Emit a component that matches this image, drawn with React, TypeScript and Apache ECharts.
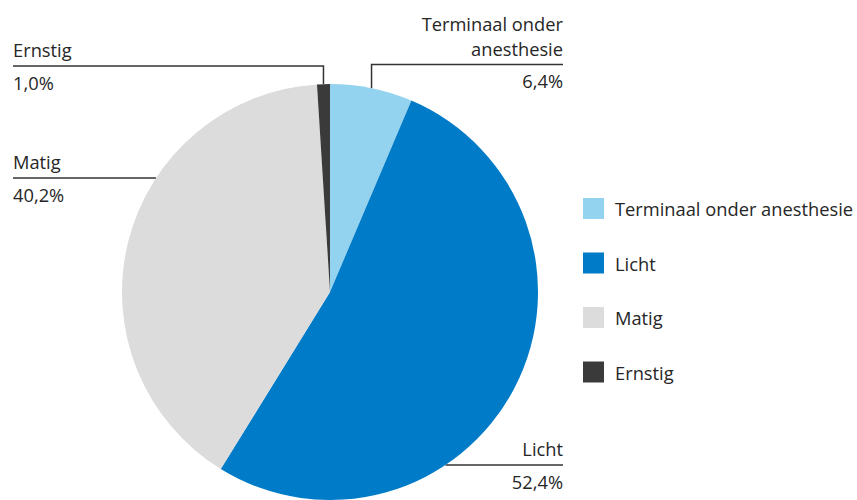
import React, { useEffect, useRef } from "react";
import * as echarts from "echarts";

// ---- data ----
const categories = ["Terminaal onder anesthesie", "Licht", "Matig", "Ernstig"];
const labelNames = ["Terminaal onder\nanesthesie", "Licht", "Matig", "Ernstig"];
const percentages = [6.4, 52.4, 40.2, 1.0];

// ---- styling / layout ----
const colors = ["#94D3EF", "#007BC7", "#DCDCDC", "#3A3A3A"];
const CX = 330;
const CY = 292;
const R = 208;
const FONT = "Open Sans";
const FONT_SIZE = 18.3;
const TEXT_COLOR = "#262626";
// per-slice label layout: horizontal line y, text side, text x, how the leader meets the pie
const labelLayoutCfg = [
  { lineY: 64.5, side: "right", textX: 563, mode: "elbow" },
  { lineY: 465, side: "right", textX: 563, mode: "flat" },
  { lineY: 178, side: "left", textX: 13, mode: "flat" },
  { lineY: 66, side: "left", textX: 13, mode: "elbow" },
];
const NAME_LH = 25;
const VALUE_LH = 40;
const NAME_GAP = 4;

const fmt = (v: number) => v.toFixed(1).replace(".", ",") + "%";

export default function App() {
  const ref = useRef<HTMLDivElement>(null);
  useEffect(() => {
    document.body.style.margin = "0";
    if (!ref.current) return;
    const chart = echarts.init(ref.current, undefined, { renderer: "svg" });
    const total = percentages.reduce((a, b) => a + b, 0);
    const midAngles: number[] = [];
    let acc = 0;
    percentages.forEach((p) => {
      midAngles.push(((acc + p / 2) / total) * Math.PI * 2);
      acc += p;
    });

    chart.setOption({
      animation: false,
      color: colors,
      legend: {
        orient: "vertical",
        left: 583,
        top: 198,
        padding: 0,
        itemWidth: 21,
        itemHeight: 21,
        itemGap: 33.5,
        icon: "rect",
        selectedMode: false,
        data: categories,
        textStyle: {
          fontFamily: FONT,
          fontSize: FONT_SIZE,
          color: TEXT_COLOR,
          padding: [0, 0, 0, 6],
        },
      },
      series: [
        {
          type: "pie",
          center: [CX, CY],
          radius: R,
          startAngle: 90,
          clockwise: true,
          avoidLabelOverlap: false,
          emphasis: { disabled: true },
          itemStyle: { borderWidth: 0 },
          data: categories.map((c, i) => ({ name: c, value: percentages[i] })),
          label: {
            show: true,
            position: "outside",
            formatter: (p: any) => {
              const i = p.dataIndex;
              const names = labelNames[i]
                .split("\n")
                .map((s) => `{n|${s}}`)
                .join("\n");
              return `${names}\n{v|${fmt(percentages[i])}}`;
            },
            rich: {
              n: {
                fontFamily: FONT,
                fontSize: FONT_SIZE,
                color: TEXT_COLOR,
                lineHeight: NAME_LH,
              },
              v: {
                fontFamily: FONT,
                fontSize: FONT_SIZE,
                color: TEXT_COLOR,
                lineHeight: VALUE_LH,
              },
            },
          },
          labelLine: {
            show: true,
            lineStyle: { color: "#333333", width: 1.5 },
          },
          labelLayout: (params: any) => {
            const i = params.dataIndex;
            const cfg = labelLayoutCfg[i];
            const nLines = labelNames[i].split("\n").length;
            const a = midAngles[i];
            const ex = CX + R * Math.sin(a);
            const ey = CY - R * Math.cos(a);
            let pts: number[][];
            if (cfg.mode === "elbow") {
              pts = [
                [ex, ey],
                [ex, cfg.lineY],
                [cfg.textX, cfg.lineY],
              ];
            } else {
              const dy = cfg.lineY - CY;
              const dx = Math.sqrt(Math.max(R * R - dy * dy, 0));
              const sx = cfg.side === "left" ? CX - dx : CX + dx;
              pts = [
                [sx, cfg.lineY],
                [(sx + cfg.textX) / 2, cfg.lineY],
                [cfg.textX, cfg.lineY],
              ];
            }
            return {
              x: cfg.textX,
              y: cfg.lineY - nLines * NAME_LH - NAME_GAP,
              align: cfg.side === "left" ? "left" : "right",
              verticalAlign: "top",
              labelLinePoints: pts,
            };
          },
        },
      ],
    });
    return () => chart.dispose();
  }, []);
  return <div ref={ref} style={{ width: 857, height: 500 }} />;
}
